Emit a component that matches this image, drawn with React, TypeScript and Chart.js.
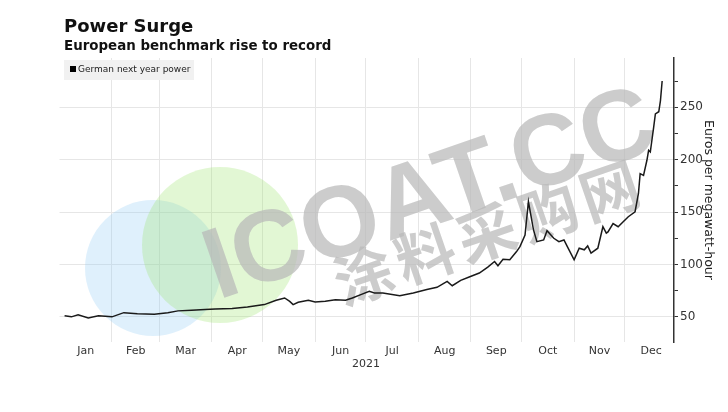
import React, { useEffect, useRef } from "react";
import { Chart, registerables } from "chart.js";

Chart.register(...registerables);

const TITLE = "Power Surge";
const SUBTITLE = "European benchmark rise to record";
const SERIES_NAME = "German next year power";
const Y_TITLE = "Euros per megawatt-hour";
const YEAR_LABEL = "2021";
const WATERMARK_LATIN = "ICOAT.CC";
const WATERMARK_CJK = "涂料采购网";

const MONTHS = ["Jan", "Feb", "Mar", "Apr", "May", "Jun", "Jul", "Aug", "Sep", "Oct", "Nov", "Dec"];
const MONTH_START_DAYS = [0, 31, 59, 90, 120, 151, 181, 212, 243, 273, 304, 334, 365];

// day of year (0 = Jan 1, 2021)
const DAYS = [
  3, 7, 11, 17, 23, 31, 38, 46, 56, 64, 70, 78, 86, 92, 102, 111, 121, 128, 133, 136,
  138, 141, 147, 151, 157, 163, 169, 173, 178, 183, 186, 191, 201, 209, 217, 223, 229, 232, 237, 242,
  248, 253, 257, 259, 262, 266, 270, 272, 275, 277, 280, 282, 286, 288, 292, 295, 298, 300, 304, 307,
  310, 312, 314, 318, 321, 323, 324, 327, 330, 333, 336, 340, 342, 343, 345, 347, 348, 349, 351, 352,
  354, 355, 356,
];
// euros per megawatt-hour
const PRICES = [
  51, 50, 52, 49, 51, 50, 54, 53, 52.5, 54, 55.7, 56.3, 57, 57.6, 58, 59.5, 61.7, 65.8, 68, 64.8,
  61.7, 63.9, 65.8, 64.2, 64.8, 66.4, 65.8, 68, 71.2, 74.3, 72.8, 72.8, 70.2, 72.8, 76, 78.2, 83.8, 79.7, 84.8, 88,
  91.8, 97.5, 102.8, 98.7, 105, 104.4, 112.3, 117, 128, 160, 133, 121.8, 123.4, 132.2, 125, 121.8, 123.4, 117, 104.4, 115.5,
  114, 117.7, 110.8, 115.5, 136, 129.8, 131, 139, 136, 140.8, 145.5, 150.3, 167.7, 186.7, 185, 199.4, 208.9, 207.3, 231, 243.7,
  245.7, 256.4, 275,
];

const Y_TICKS = [50, 75, 100, 125, 150, 175, 200, 225, 250, 275];
const Y_MIN = 26;
const Y_MAX = 297;

const decorPlugin = {
  id: "decor",
  beforeDatasetsDraw(chart: any) {
    const ctx = chart.ctx;
    const area = chart.chartArea;
    ctx.save();
    ctx.beginPath();
    ctx.rect(area.left, area.top, area.right - area.left, area.bottom - area.top);
    ctx.clip();
    // decorative circles
    ctx.fillStyle = "rgba(150,205,245,0.30)";
    ctx.beginPath();
    ctx.arc(153, 268, 68, 0, Math.PI * 2);
    ctx.fill();
    ctx.fillStyle = "rgba(150,225,100,0.28)";
    ctx.beginPath();
    ctx.arc(220, 245, 78, 0, Math.PI * 2);
    ctx.fill();
    ctx.restore();

    // watermark
    ctx.save();
    ctx.fillStyle = "rgba(185,185,185,0.72)";
    ctx.translate(218, 300);
    ctx.rotate((-19 * Math.PI) / 180);
    ctx.font = "bold 101px 'Liberation Sans', Arial, sans-serif";
    ctx.textBaseline = "alphabetic";
    ctx.textAlign = "left";
    ctx.fillText(WATERMARK_LATIN, 0, 0);
    ctx.restore();

    ctx.save();
    ctx.fillStyle = "rgba(185,185,185,0.72)";
    ctx.translate(343, 306);
    ctx.rotate((-19 * Math.PI) / 180);
    ctx.font = "bold 59px 'Noto Sans CJK SC', sans-serif";
    (ctx as any).letterSpacing = "6px";
    ctx.textBaseline = "alphabetic";
    ctx.textAlign = "left";
    ctx.fillText(WATERMARK_CJK, 0, 0);
    ctx.restore();
  },
  afterDraw(chart: any) {
    const ctx = chart.ctx;
    const area = chart.chartArea;
    const xs = chart.scales.x;
    ctx.save();
    // titles
    ctx.fillStyle = "#111";
    ctx.textAlign = "left";
    ctx.textBaseline = "alphabetic";
    ctx.font = "bold 18px 'DejaVu Sans', sans-serif";
    ctx.fillText(TITLE, 64, 32);
    ctx.font = "bold 13.4px 'DejaVu Sans', sans-serif";
    ctx.fillText(SUBTITLE, 64, 50);

    // legend box
    ctx.fillStyle = "#f1f1f1";
    ctx.fillRect(64, 60, 130, 20);
    ctx.fillStyle = "#000";
    ctx.fillRect(70, 66, 6, 6);
    ctx.fillStyle = "#222";
    ctx.font = "9px 'DejaVu Sans', sans-serif";
    ctx.textBaseline = "middle";
    ctx.fillText(SERIES_NAME, 78, 70);

    // month labels
    ctx.fillStyle = "#333";
    ctx.font = "11px 'DejaVu Sans', sans-serif";
    ctx.textAlign = "center";
    ctx.textBaseline = "middle";
    for (let i = 0; i < MONTHS.length; i++) {
      const mid = (MONTH_START_DAYS[i] + MONTH_START_DAYS[i + 1]) / 2;
      ctx.fillText(MONTHS[i], xs.getPixelForValue(mid), area.bottom + 9);
    }
    ctx.fillText(YEAR_LABEL, xs.getPixelForValue(MONTH_START_DAYS[6]), area.bottom + 22);
    ctx.restore();
  },
};

export default function App() {
  const canvasRef = useRef<HTMLCanvasElement | null>(null);

  useEffect(() => {
    const canvas = canvasRef.current;
    if (!canvas) return;
    const chart = new Chart(canvas, {
      type: "line",
      data: {
        datasets: [
          {
            label: SERIES_NAME,
            data: DAYS.map((d, i) => ({ x: d, y: PRICES[i] })),
            borderColor: "#1a1a1a",
            borderWidth: 1.5,
            pointRadius: 0,
            tension: 0,
            fill: false,
          },
        ],
      },
      options: {
        animation: false,
        responsive: false,
        maintainAspectRatio: false,
        layout: { padding: { left: 59.5, top: 58, right: 0, bottom: 0 } },
        plugins: {
          legend: { display: false },
          tooltip: { enabled: false },
          title: { display: false },
        },
        scales: {
          x: {
            type: "linear",
            min: 0,
            max: 363,
            afterBuildTicks: (axis: any) => {
              axis.ticks = MONTH_START_DAYS.slice(1, 12).map((v) => ({ value: v }));
            },
            afterFit: (axis: any) => {
              axis.height = 70;
            },
            ticks: { display: false },
            grid: { color: "#e6e6e6", lineWidth: 1, drawTicks: false },
            border: { display: false },
          },
          y: {
            type: "linear",
            position: "right",
            min: Y_MIN,
            max: Y_MAX,
            afterBuildTicks: (axis: any) => {
              axis.ticks = Y_TICKS.map((v) => ({ value: v }));
            },
            afterFit: (axis: any) => {
              axis.width = 54;
            },
            ticks: {
              color: "#333",
              font: { family: "'DejaVu Sans', sans-serif", size: 12 },
              padding: 2,
              callback: (v: any) => (Number(v) % 50 === 0 ? String(v) : ""),
            },
            grid: {
              color: (c: any) => (c.tick && c.tick.value % 50 === 0 ? "#e6e6e6" : "rgba(0,0,0,0)"),
              tickColor: "#333",
              tickLength: 4,
              lineWidth: 1,
            },
            border: { display: true, color: "#333", width: 1.5 },
            title: {
              display: true,
              text: Y_TITLE,
              color: "#222",
              font: { family: "'DejaVu Sans', sans-serif", size: 12.5 },
              padding: { top: 12, bottom: 4 },
            },
          },
        },
      },
      plugins: [decorPlugin],
    });
    return () => chart.destroy();
  }, []);

  return (
    <div style={{ position: "fixed", left: 0, top: 0, width: 728, height: 412, background: "#fff" }}>
      <canvas ref={canvasRef} width={728} height={412} style={{ width: 728, height: 412, display: "block" }} />
    </div>
  );
}
